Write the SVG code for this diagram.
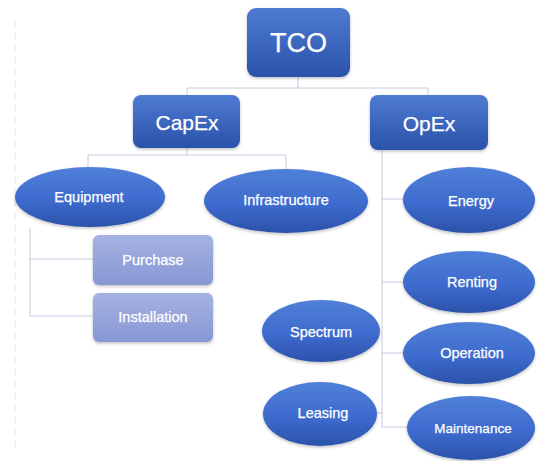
<svg xmlns="http://www.w3.org/2000/svg" width="538" height="461" viewBox="0 0 538 461">
  <defs>
    <linearGradient id="boxFill" x1="0" y1="0" x2="0" y2="1">
      <stop offset="0" stop-color="#4f7bd2"/>
      <stop offset="1" stop-color="#2a52aa"/>
    </linearGradient>
    <linearGradient id="ovalFill" x1="0" y1="0" x2="0" y2="1">
      <stop offset="0" stop-color="#5080d8"/>
      <stop offset="0.55" stop-color="#3e6bce"/>
      <stop offset="1" stop-color="#2b52aa"/>
    </linearGradient>
    <linearGradient id="subFill" x1="0" y1="0" x2="0" y2="1">
      <stop offset="0" stop-color="#a5b2e2"/>
      <stop offset="1" stop-color="#8797d4"/>
    </linearGradient>
    <filter id="shadow" x="-10%" y="-10%" width="120%" height="130%">
      <feDropShadow dx="0" dy="1.5" stdDeviation="1.5" flood-color="#000" flood-opacity="0.25"/>
    </filter>
  </defs>
  <style>
    .box { fill: url(#boxFill); filter: url(#shadow); }
    .oval { fill: url(#ovalFill); filter: url(#shadow); }
    .sub { fill: url(#subFill); filter: url(#shadow); }
    .link { fill: none; stroke: #c6cce2; stroke-width: 1; }
    text { font-family: "Liberation Sans", Arial, sans-serif; fill: #ffffff; stroke: #ffffff; stroke-width: 0.25; text-anchor: middle; dominant-baseline: central; }
    .big { font-size: 27px; }
    .mid { font-size: 21px; }
    .small { font-size: 14.5px; }
  </style>

  <rect width="538" height="461" fill="#ffffff"/>
  <line x1="15" y1="20" x2="15" y2="450" stroke="#e6e6ea" stroke-width="1" stroke-dasharray="7 5"/>

  <g id="connectors">
    <path class="link" d="M298,77 V88 M187,95 V88 H428 V95"/>
    <path class="link" d="M187,148 V155 M88,167 V155 H286 V169"/>
    <path class="link" d="M30,228 V316 H93 M30,259 H93"/>
    <path class="link" d="M382,150 V427 H407 M382,199 H403 M382,282 H404 M382,353 H404 M377,413 H382"/>
  </g>

  <g id="tco">
    <rect class="box" x="247" y="8" width="103" height="69" rx="9"/>
    <text class="big" x="298.5" y="43">TCO</text>
  </g>
  <g id="capex">
    <rect class="box" x="133" y="95" width="107" height="53" rx="8"/>
    <text class="mid" x="187" y="122">CapEx</text>
  </g>
  <g id="opex">
    <rect class="box" x="370" y="95" width="118" height="55" rx="8"/>
    <text class="mid" x="429" y="123">OpEx</text>
  </g>

  <g id="equipment">
    <ellipse class="oval" cx="90" cy="197" rx="75" ry="30"/>
    <text class="small" x="89" y="197">Equipment</text>
  </g>
  <g id="infrastructure">
    <ellipse class="oval" cx="286" cy="201" rx="82" ry="32"/>
    <text class="small" x="286" y="200">Infrastructure</text>
  </g>
  <g id="purchase">
    <rect class="sub" x="93" y="235" width="120" height="50" rx="6"/>
    <text class="small" x="153" y="260">Purchase</text>
  </g>
  <g id="installation">
    <rect class="sub" x="93" y="293" width="120" height="49" rx="6"/>
    <text class="small" x="153" y="317">Installation</text>
  </g>

  <g id="energy">
    <ellipse class="oval" cx="469" cy="200" rx="66" ry="33"/>
    <text class="small" x="471" y="201">Energy</text>
  </g>
  <g id="renting">
    <ellipse class="oval" cx="469" cy="282" rx="66" ry="31"/>
    <text class="small" x="472" y="282">Renting</text>
  </g>
  <g id="operation">
    <ellipse class="oval" cx="469" cy="353" rx="66" ry="31"/>
    <text class="small" x="472" y="353">Operation</text>
  </g>
  <g id="maintenance">
    <ellipse class="oval" cx="471" cy="428" rx="64" ry="32"/>
    <text x="473" y="428" font-size="13.5">Maintenance</text>
  </g>
  <g id="spectrum">
    <ellipse class="oval" cx="321" cy="331" rx="59" ry="31"/>
    <text class="small" x="321" y="332">Spectrum</text>
  </g>
  <g id="leasing">
    <ellipse class="oval" cx="320" cy="414" rx="57" ry="32"/>
    <text class="small" x="323" y="413">Leasing</text>
  </g>
</svg>
